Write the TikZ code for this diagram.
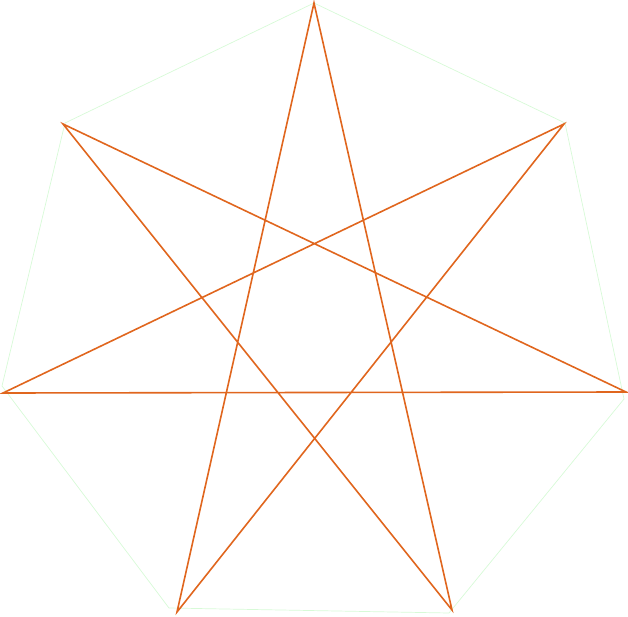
\documentclass[tikz,border=0pt]{standalone}
\definecolor{starorange}{RGB}{224,102,30}
\definecolor{faintgreen}{RGB}{215,250,215}
\tikzset{
  starline/.style={draw=starorange, line width=1.6pt, line join=miter},
  outline/.style={draw=faintgreen, line width=0.7pt}
}
\begin{document}
\begin{tikzpicture}[x=1pt,y=-1pt]
\useasboundingbox (0,0) rectangle (628,617);
% outline heptagon vertices
\coordinate (o0) at (314,3);
\coordinate (o1) at (565,123);
\coordinate (o2) at (624,399);
\coordinate (o3) at (449,613);
\coordinate (o4) at (169,608);
\coordinate (o5) at (2,386);
\coordinate (o6) at (65,123);
\draw[outline] (o0) -- (o1) -- (o2) -- (o3) -- (o4) -- (o5) -- (o6) -- cycle;
% star vertices
\coordinate (v0) at (314,3);
\coordinate (v1) at (564,124);
\coordinate (v2) at (626,392);
\coordinate (v3) at (452,610);
\coordinate (v4) at (177,612);
\coordinate (v5) at (3,393);
\coordinate (v6) at (63,124);
\draw[starline] (v0) -- (v3) -- (v6) -- (v2) -- (v5) -- (v1) -- (v4) -- cycle;
\end{tikzpicture}
\end{document}
